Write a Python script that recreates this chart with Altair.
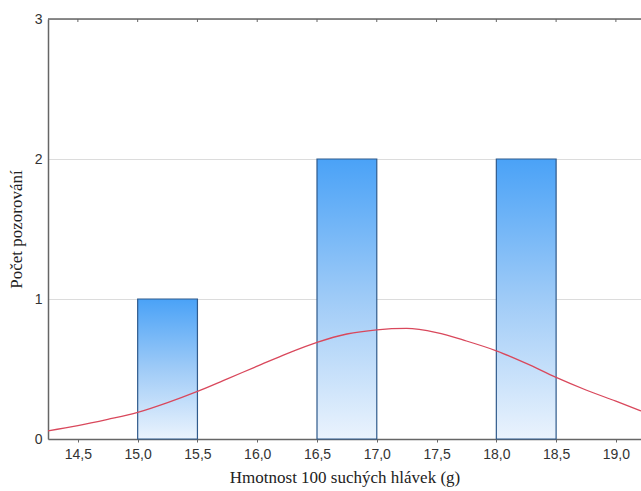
import altair as alt
import pandas as pd

# Histogram bins (g) and counts
bin_start = [15.0, 16.5, 18.0]
bin_end = [15.5, 17.0, 18.5]
counts = [1, 2, 2]

# Fitted normal curve
curve_x = [14.25, 14.5, 14.75, 15.0, 15.25, 15.5, 15.75, 16.0, 16.25, 16.5, 16.75,
           17.0, 17.25, 17.5, 17.75, 18.0, 18.25, 18.5, 18.75, 19.0, 19.21]
curve_y = [0.058, 0.095, 0.14, 0.19, 0.26, 0.34, 0.43, 0.52, 0.61, 0.69, 0.75,
           0.78, 0.79, 0.76, 0.70, 0.63, 0.54, 0.44, 0.35, 0.27, 0.20]

x_ticks = [14.5, 15.0, 15.5, 16.0, 16.5, 17.0, 17.5, 18.0, 18.5, 19.0]
y_ticks = [0, 1, 2, 3]

x_domain = [14.25, 19.21]
y_domain = [0, 3]

bars_df = pd.DataFrame({"start": bin_start, "end": bin_end, "count": counts})
curve_df = pd.DataFrame({"x": curve_x, "y": curve_y})
ticks_df = pd.DataFrame({"t": x_ticks})

W, H = 593, 420

xscale = alt.Scale(domain=x_domain, nice=False, zero=False)
yscale = alt.Scale(domain=y_domain, nice=False)

common = dict(labelFont="Liberation Sans", labelFontSize=14, labelColor="#333",
              titleFont="Liberation Serif", titleFontSize=17, titleFontWeight="normal",
              titleColor="#222", domainColor="#666", domainWidth=1.5)

x_axis = alt.Axis(values=x_ticks, format=".1f", labelExpr="replace(datum.label, '.', ',')",
                  title="Hmotnost 100 suchých hlávek (g)", grid=False,
                  tickColor="#666", tickSize=3, labelPadding=5, titlePadding=8, **common)
y_axis = alt.Axis(values=y_ticks, format="d", title="Počet pozorování",
                  grid=True, gridColor="#dcdcdc", ticks=False, labelPadding=6,
                  titlePadding=9, **common)

grad = alt.Gradient(
    gradient="linear",
    stops=[alt.GradientStop(color="#4aa2f7", offset=0),
           alt.GradientStop(color="#9fcbf7", offset=0.5),
           alt.GradientStop(color="#eaf3fd", offset=1)],
    x1=0, x2=0, y1=0, y2=1,
)

bars = alt.Chart(bars_df).mark_rect(color=grad, stroke="#2f5a8c", strokeWidth=1.2).encode(
    x=alt.X("start:Q", scale=xscale, axis=x_axis),
    x2="end:Q",
    y=alt.Y("count:Q", scale=yscale, axis=y_axis),
    y2=alt.datum(0),
)

curve = alt.Chart(curve_df).mark_line(color="#d9485c", strokeWidth=1.3,
                                      interpolate="monotone", clip=True).encode(
    x=alt.X("x:Q", scale=xscale),
    y=alt.Y("y:Q", scale=yscale),
)

top_border = alt.Chart(pd.DataFrame({"a": [0]})).mark_rule(color="#666", strokeWidth=1.5).encode(
    x=alt.value(0), x2=alt.value(W), y=alt.value(0)
)

top_ticks = alt.Chart(ticks_df).mark_rule(color="#666", strokeWidth=1).encode(
    x=alt.X("t:Q", scale=xscale),
    y=alt.value(0), y2=alt.value(3),
)

chart = alt.layer(bars, curve, top_border, top_ticks).properties(
    width=W, height=H,
    autosize=alt.AutoSizeParams(type="none"),
    padding={"left": 48, "top": 19, "right": 0, "bottom": 52},
    background="white",
).configure_view(stroke=None)

chart.save("out.html", embed_options={"renderer": "svg", "actions": False})
